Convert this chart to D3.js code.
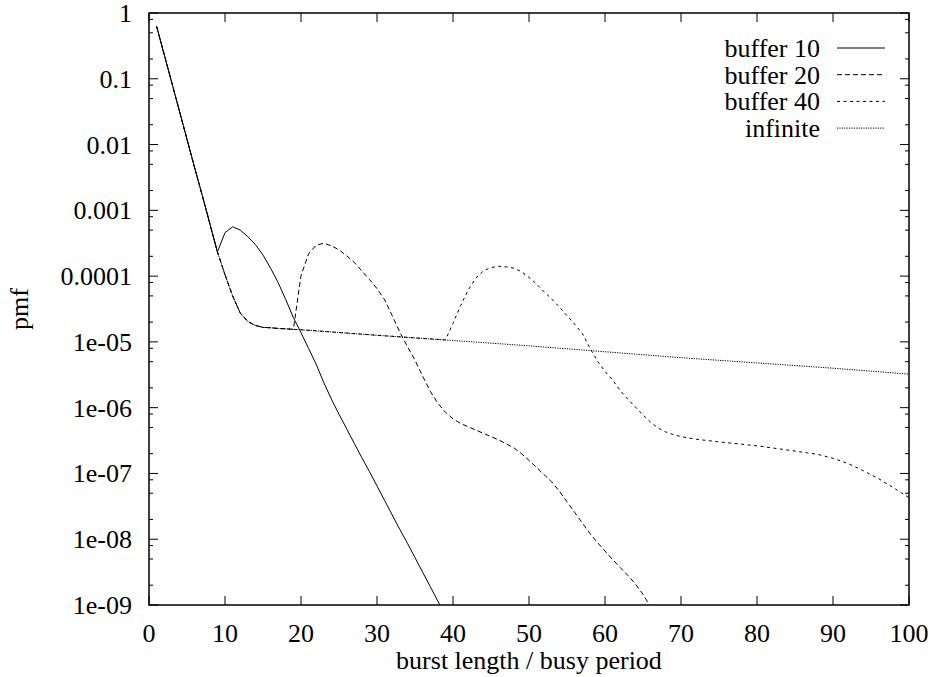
<!DOCTYPE html>
<html>
<head>
<meta charset="utf-8">
<script src="https://cdn.jsdelivr.net/npm/d3@7"></script>
<style>
  body { margin: 0; background: #fff; }
  text { font-family: "Liberation Serif", "DejaVu Serif", serif; fill: #000; }
</style>
</head>
<body>
<script>
// burst length values and pmf for each buffer size
var xHead = [1, 2, 3, 4, 5, 6, 7, 8, 9];
var yHead = [0.625, 0.234, 0.0871, 0.0324, 0.0120, 4.47e-3, 1.70e-3, 6.31e-4, 2.34e-4];

var buf10X = [10, 11, 12, 13, 14, 15, 16, 17, 18, 19, 20, 21, 22, 23, 24, 25, 26, 27, 28, 29,
              30, 31, 32, 33, 34, 35, 36, 37, 38, 39];
var buf10Y = [4.57e-4, 5.62e-4, 5.01e-4, 3.98e-4, 3.02e-4, 2.09e-4, 1.32e-4, 7.94e-5, 4.37e-5, 2.34e-5,
              1.38e-5, 7.94e-6, 4.57e-6, 2.40e-6, 1.35e-6, 7.94e-7, 4.79e-7, 2.88e-7, 1.74e-7, 1.07e-7,
              6.46e-8, 3.89e-8, 2.34e-8, 1.41e-8, 8.71e-9, 5.25e-9, 3.16e-9, 1.91e-9, 1.15e-9, 6.92e-10];

// the infinite-buffer curve, shared by buffer 20 up to 19 and buffer 40 up to 39
var infX = [10, 11, 12, 13, 14, 15, 16, 17, 18, 19, 20, 30, 39, 40, 50, 60, 70, 80, 90, 100];
var infY = [1.05e-4, 5.01e-5, 2.75e-5, 2.04e-5, 1.78e-5, 1.66e-5, 1.64e-5, 1.60e-5, 1.58e-5, 1.55e-5,
            1.53e-5, 1.26e-5, 1.07e-5, 1.05e-5, 8.71e-6, 7.08e-6, 5.75e-6, 4.79e-6, 3.98e-6, 3.24e-6];

var buf20X = [20, 21, 22, 23, 24, 25, 26, 27, 28, 29, 30, 31, 32, 33, 34, 35, 36, 37, 38, 39,
              40, 41, 42, 43, 44, 45, 46, 47, 48, 49, 50, 51, 52, 53, 54, 55, 56, 57, 58, 59,
              60, 61, 62, 63, 64, 65, 66, 67];
var buf20Y = [1.02e-4, 2.19e-4, 2.95e-4, 3.16e-4, 2.88e-4, 2.51e-4, 2.04e-4, 1.62e-4, 1.20e-4, 8.91e-5,
              6.46e-5, 4.37e-5, 2.51e-5, 1.41e-5, 8.51e-6, 5.25e-6, 3.02e-6, 1.78e-6, 1.17e-6, 8.51e-7,
              6.76e-7, 5.75e-7, 5.13e-7, 4.57e-7, 4.07e-7, 3.63e-7, 3.24e-7, 2.82e-7, 2.45e-7, 2.00e-7,
              1.58e-7, 1.23e-7, 9.55e-8, 7.41e-8, 5.37e-8, 3.72e-8, 2.57e-8, 1.78e-8, 1.23e-8, 8.91e-9,
              6.61e-9, 4.90e-9, 3.72e-9, 2.82e-9, 2.09e-9, 1.45e-9, 9.33e-10, 6.31e-10];

var buf40X = [40, 41, 42, 43, 44, 45, 46, 47, 48, 49, 50, 51, 52, 53, 54, 55, 56, 57, 58, 59,
              60, 61, 62, 63, 64, 65, 66, 67, 68, 69, 70, 72, 75, 80, 85, 88, 90, 92, 94, 96, 98, 100];
var buf40Y = [1.91e-5, 3.55e-5, 6.17e-5, 9.33e-5, 1.20e-4, 1.35e-4, 1.41e-4, 1.38e-4, 1.32e-4, 1.17e-4,
              9.55e-5, 7.59e-5, 5.75e-5, 4.47e-5, 3.39e-5, 2.51e-5, 1.86e-5, 1.35e-5, 8.13e-6, 5.13e-6,
              3.55e-6, 2.63e-6, 1.82e-6, 1.35e-6, 1.02e-6, 7.76e-7, 6.03e-7, 4.90e-7, 4.27e-7, 3.89e-7,
              3.63e-7, 3.31e-7, 3.02e-7, 2.63e-7, 2.19e-7, 1.95e-7, 1.70e-7, 1.41e-7, 1.10e-7, 8.32e-8,
              6.03e-8, 4.27e-8];

var seriesNames = ["buffer 10", "buffer 20", "buffer 40", "infinite"];
var dashes = [null, "5,3", "3,3.5", "1.2,1.2"];
var xTicks = [0, 10, 20, 30, 40, 50, 60, 70, 80, 90, 100];
var yTicks = [1, 0.1, 0.01, 0.001, 0.0001, 1e-5, 1e-6, 1e-7, 1e-8, 1e-9];
var yTickLabels = ["1", "0.1", "0.01", "0.001", "0.0001", "1e-05", "1e-06", "1e-07", "1e-08", "1e-09"];

function pts(xs, ys) {
  return xs.map(function(x, i) { return [x, ys[i]]; });
}
function upTo(xs, ys, maxX) {
  return pts(xs, ys).filter(function(d) { return d[0] <= maxX; });
}

var head = pts(xHead, yHead);
var lines = [
  head.concat(pts(buf10X, buf10Y)),
  head.concat(upTo(infX, infY, 19), pts(buf20X, buf20Y)),
  head.concat(upTo(infX, infY, 39), pts(buf40X, buf40Y)),
  head.concat(pts(infX, infY))
];

var W = 937, H = 677;
var pLeft = 149, pRight = 909, pTop = 13, pBottom = 605;
var fs = 26;

var svg = d3.select("body").append("svg")
    .attr("width", W)
    .attr("height", H);

var x = d3.scaleLinear().domain([0, 100]).range([pLeft, pRight]);
var y = d3.scaleLog().domain([1e-9, 1]).range([pBottom, pTop]);

svg.append("clipPath").attr("id", "clip")
  .append("rect")
    .attr("x", pLeft).attr("y", pTop)
    .attr("width", pRight - pLeft).attr("height", pBottom - pTop);

// minor ticks at 2, 5, 8 of each decade
var minor = [];
for (var e = -9; e < 0; e++) {
  [2, 5, 8].forEach(function(m) { minor.push(m * Math.pow(10, e)); });
}

var g = svg.append("g");

function tick(x1, y1, x2, y2) {
  g.append("line").attr("x1", x1).attr("y1", y1).attr("x2", x2).attr("y2", y2)
    .attr("stroke", "#000").attr("stroke-width", 1);
}

// y ticks, left and mirrored right
yTicks.forEach(function(v) {
  tick(pLeft, y(v), pLeft + 9, y(v));
  tick(pRight, y(v), pRight - 9, y(v));
});
minor.forEach(function(v) {
  tick(pLeft, y(v), pLeft + 4, y(v));
  tick(pRight, y(v), pRight - 4, y(v));
});
xTicks.forEach(function(v) {
  tick(x(v), pBottom, x(v), pBottom - 9);
  tick(x(v), pTop, x(v), pTop + 9);
});

// tick labels
g.selectAll(".ylab").data(yTicks).enter().append("text")
    .attr("x", pLeft - 17)
    .attr("y", function(d) { return y(d) + 9; })
    .attr("text-anchor", "end")
    .attr("font-size", fs)
    .text(function(d, i) { return yTickLabels[i]; });

g.selectAll(".xlab").data(xTicks).enter().append("text")
    .attr("x", function(d) { return x(d); })
    .attr("y", pBottom + 37)
    .attr("text-anchor", "middle")
    .attr("font-size", fs)
    .text(function(d) { return d; });

svg.append("text")
    .attr("x", (pLeft + pRight) / 2)
    .attr("y", pBottom + 64)
    .attr("text-anchor", "middle")
    .attr("font-size", fs)
    .text("burst length / busy period");

svg.append("text")
    .attr("transform", "translate(28," + ((pTop + pBottom) / 2) + ") rotate(-90)")
    .attr("text-anchor", "middle")
    .attr("font-size", fs)
    .text("pmf");

// the curves
var line = d3.line()
    .x(function(d) { return x(d[0]); })
    .y(function(d) { return y(d[1]); });

svg.append("g").attr("clip-path", "url(#clip)")
  .selectAll("path").data(lines).enter().append("path")
    .attr("d", line)
    .attr("fill", "none")
    .attr("stroke", "#000")
    .attr("stroke-width", 1)
    .attr("stroke-dasharray", function(d, i) { return dashes[i]; });

// border
svg.append("rect")
    .attr("x", pLeft).attr("y", pTop)
    .attr("width", pRight - pLeft).attr("height", pBottom - pTop)
    .attr("fill", "none").attr("stroke", "#000").attr("stroke-width", 1.5);

// legend
var legend = svg.append("g");
seriesNames.forEach(function(name, i) {
  var ly = 48 + i * 26.7;
  legend.append("text")
    .attr("x", 820).attr("y", ly + 9)
    .attr("text-anchor", "end")
    .attr("font-size", fs)
    .text(name);
  legend.append("line")
    .attr("x1", 837).attr("x2", 885).attr("y1", ly).attr("y2", ly)
    .attr("stroke", "#000").attr("stroke-width", 1)
    .attr("stroke-dasharray", dashes[i]);
});
</script>
</body>
</html>
